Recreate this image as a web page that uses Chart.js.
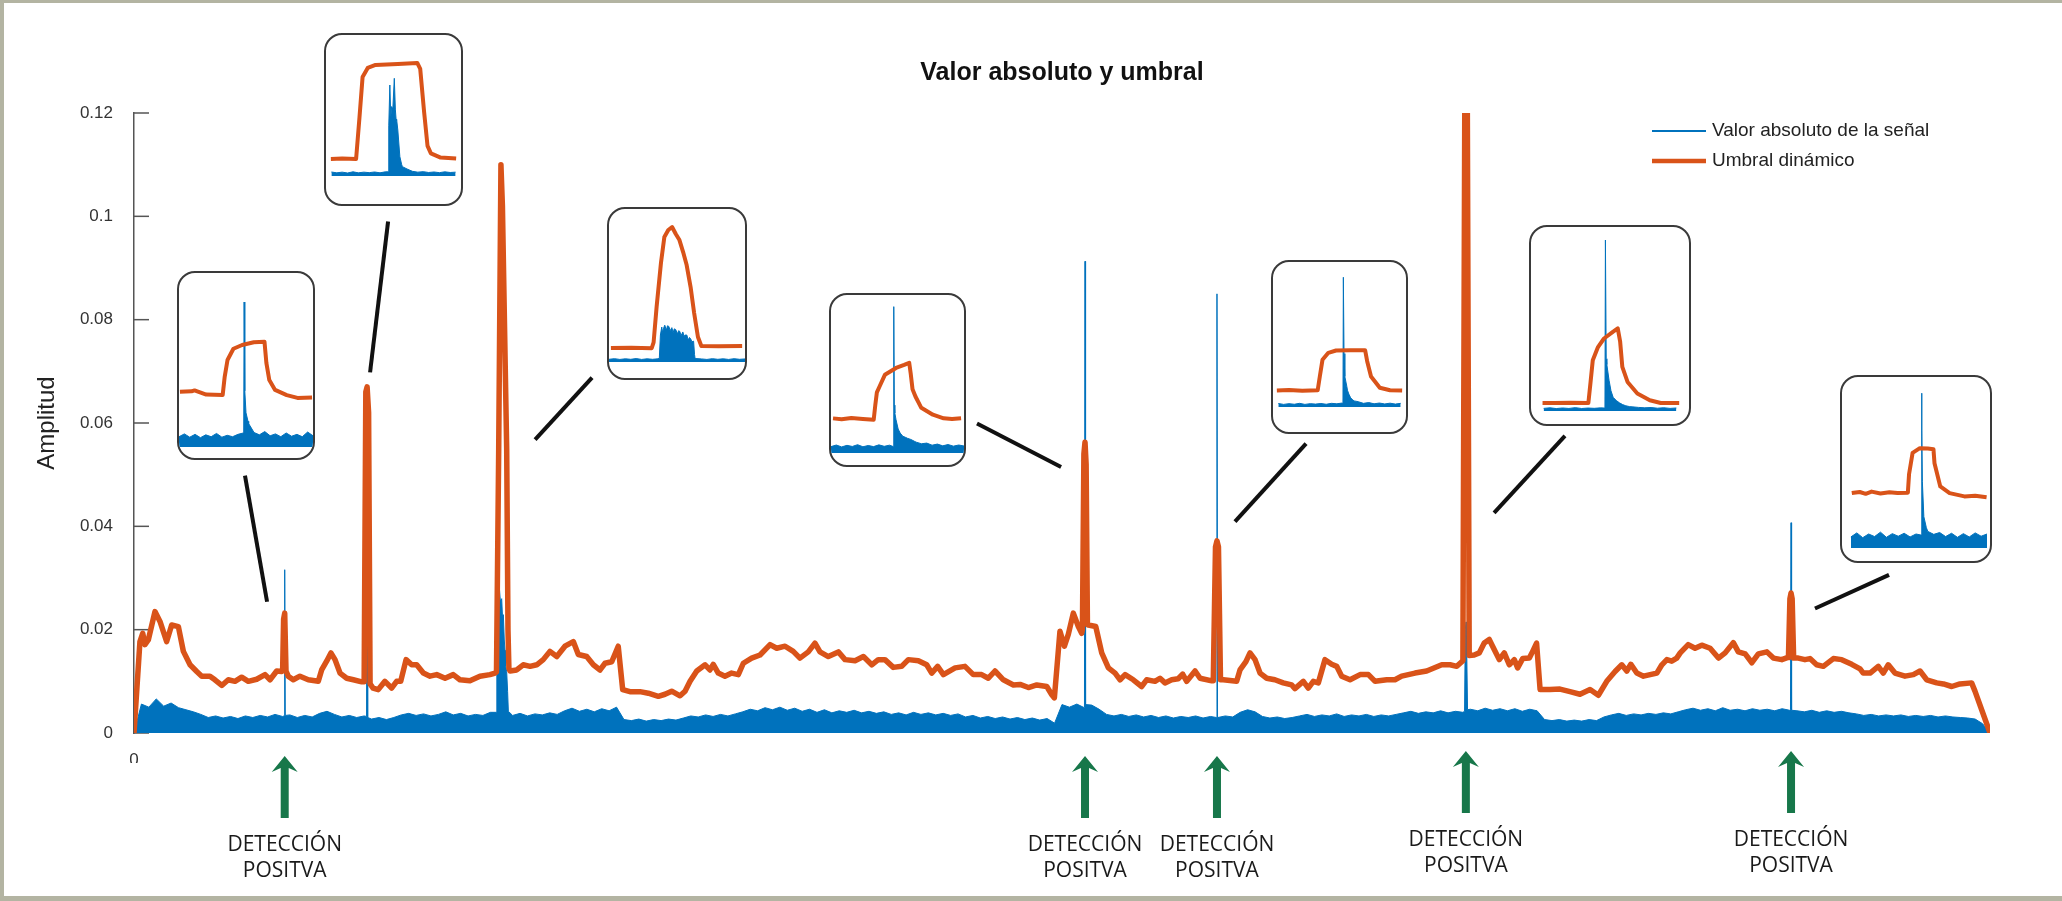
<!DOCTYPE html>
<html lang="es">
<head>
<meta charset="utf-8">
<title>Valor absoluto y umbral</title>
<script src="https://cdn.jsdelivr.net/npm/chart.js@4.4.0/dist/chart.umd.min.js"></script>
<style>
  html, body { margin: 0; padding: 0; }
  body { width: 2062px; height: 901px; background: #b3b4a2; position: relative; overflow: hidden; }
  #marco { position: absolute; left: 4px; top: 3px; width: 2070px; height: 893px; background: #fff; }
  #grafico { position: absolute; left: 0; top: 0; }
  .recuadro { position: absolute; box-sizing: border-box; border: 2px solid #3a3a3a; border-radius: 18px; background: #fff; overflow: hidden; }
  .recuadro canvas { display: block; }
</style>
</head>
<body>
<div id="marco"></div>
<canvas id="grafico" width="2062" height="901"></canvas>
<script>
const AZUL = '#0072BD';
const NARANJA = '#D95319';

// señal: valores cada 4 muestras (0..1000)
const senalBase = [
  0, 0.0056, 0.0050, 0.0066, 0.0052, 0.0058, 0.0049, 0.0045, 0.0041, 0.0036,
  0.0030, 0.0033, 0.0029, 0.0032, 0.0028, 0.0033, 0.0030, 0.0034, 0.0031, 0.0036,
  0.0032, 0.0035, 0.0030, 0.0034, 0.0031, 0.0038, 0.0042, 0.0036, 0.0031, 0.0034,
  0.0030, 0.0033, 0.0027, 0.0030, 0.0026, 0.0030, 0.0035, 0.0038, 0.0034, 0.0037,
  0.0033, 0.0036, 0.0041, 0.0035, 0.0038, 0.0033, 0.0036, 0.0034, 0.0040, 0.0240,
  0.0155, 0.0034, 0.0038, 0.0033, 0.0037, 0.0035, 0.0039, 0.0036, 0.0043, 0.0048,
  0.0042, 0.0046, 0.0041, 0.0047, 0.0043, 0.0050, 0.0026, 0.0024, 0.0027, 0.0023,
  0.0026, 0.0024, 0.0027, 0.0025, 0.0029, 0.0033, 0.0031, 0.0035, 0.0032, 0.0036,
  0.0033, 0.0037, 0.0041, 0.0046, 0.0043, 0.0049, 0.0045, 0.0050, 0.0044, 0.0048,
  0.0042, 0.0046, 0.0040, 0.0045, 0.0039, 0.0043, 0.0040, 0.0044, 0.0039, 0.0042,
  0.0038, 0.0041, 0.0036, 0.0039, 0.0035, 0.0040, 0.0036, 0.0039, 0.0035, 0.0038,
  0.0034, 0.0037, 0.0031, 0.0034, 0.0029, 0.0032, 0.0028, 0.0031, 0.0027, 0.0030,
  0.0026, 0.0029, 0.0025, 0.0028, 0.0019, 0.0055, 0.0050, 0.0056, 0.0049, 0.0054,
  0.0046, 0.0036, 0.0033, 0.0036, 0.0032, 0.0035, 0.0031, 0.0034, 0.0030, 0.0033,
  0.0029, 0.0032, 0.0030, 0.0033, 0.0029, 0.0032, 0.0030, 0.0033, 0.0031, 0.0040,
  0.0045, 0.0041, 0.0032, 0.0029, 0.0031, 0.0028, 0.0030, 0.0033, 0.0036, 0.0032,
  0.0035, 0.0033, 0.0037, 0.0032, 0.0035, 0.0033, 0.0036, 0.0032, 0.0035, 0.0033,
  0.0036, 0.0039, 0.0042, 0.0038, 0.0041, 0.0039, 0.0043, 0.0039, 0.0042, 0.0040,
  0.0046, 0.0043, 0.0048, 0.0044, 0.0047, 0.0043, 0.0047, 0.0042, 0.0046, 0.0043,
  0.0026, 0.0024, 0.0026, 0.0023, 0.0025, 0.0023, 0.0026, 0.0024, 0.0031, 0.0035,
  0.0038, 0.0034, 0.0037, 0.0035, 0.0038, 0.0036, 0.0039, 0.0037, 0.0041, 0.0045,
  0.0048, 0.0044, 0.0047, 0.0043, 0.0049, 0.0044, 0.0046, 0.0043, 0.0047, 0.0044,
  0.0046, 0.0043, 0.0047, 0.0044, 0.0043, 0.0041, 0.0044, 0.0040, 0.0043, 0.0040,
  0.0042, 0.0039, 0.0037, 0.0034, 0.0036, 0.0033, 0.0035, 0.0033, 0.0035, 0.0032,
  0.0034, 0.0032, 0.0034, 0.0031, 0.0033, 0.0031, 0.0030, 0.0029, 0.0027, 0.0018,
  0
];

// picos de la señal [muestra, amplitud]
const senalPicos = [
  [80.9, 0.0033], [81.2, 0.0316], [81.5, 0.0034],
  [125.3, 0.0032], [125.6, 0.0586], [125.9, 0.0030],
  [195.2, 0.004], [195.5, 0.0197], [196.2, 0.026], [196.8, 0.0284], [197.4, 0.0255], [198.1, 0.026],
  [198.6, 0.022], [199.0, 0.0229], [199.5, 0.018], [199.9, 0.016], [200.4, 0.013], [200.8, 0.0119],
  [201.3, 0.008], [201.7, 0.0042],
  [512.1, 0.005], [512.4, 0.0913], [512.7, 0.0055],
  [583.2, 0.0030], [583.5, 0.085], [583.8, 0.0031],
  [716.9, 0.0042], [717.3, 0.020], [717.7, 0.0215], [718.1, 0.015], [718.5, 0.0045],
  [892.5, 0.0045], [892.8, 0.0407], [893.1, 0.0044]
];

// umbral dinámico [muestra, amplitud]
const umbral = [
  [0, 0], [3.2, 0.0177], [4.7, 0.0193], [5.9, 0.0171], [7.7, 0.018], [11.3, 0.0235], [14.0, 0.0216],
  [17.6, 0.0177], [20.3, 0.0209], [23.9, 0.0206], [26.6, 0.0158], [30.2, 0.0132], [33.8, 0.0119],
  [36.5, 0.011], [40.9, 0.011], [43.6, 0.0103], [47.3, 0.0092], [50.8, 0.0103], [54.4, 0.01],
  [58.0, 0.0108], [61.6, 0.01], [66.1, 0.0104], [70.6, 0.0113], [73.3, 0.0103], [76.9, 0.012],
  [79.6, 0.0119], [80.1, 0.0125], [80.6, 0.022], [81.2, 0.0232], [81.9, 0.012],
  [83.1, 0.011], [85.8, 0.0103], [89.4, 0.011], [93.9, 0.0103], [99.3, 0.01], [101.1, 0.0122],
  [103.8, 0.0139], [106.1, 0.0155], [108.3, 0.0142], [111.0, 0.0116], [114.6, 0.0106],
  [118.2, 0.0103], [122.7, 0.0099],
  [124.0, 0.0099], [124.9, 0.066], [125.6, 0.067], [126.4, 0.062], [127.2, 0.0095],
  [128.8, 0.0087], [131.6, 0.0084], [135.2, 0.01], [138.8, 0.0087], [141.5, 0.01], [143.7, 0.01],
  [146.6, 0.0142], [149.6, 0.0132], [152.3, 0.0132], [155.9, 0.0116], [159.5, 0.011],
  [163.1, 0.0113], [167.6, 0.0106], [172.0, 0.0113], [175.6, 0.0103], [181.0, 0.0101],
  [186.4, 0.011], [191.8, 0.0113], [194.5, 0.0116],
  [195.3, 0.0118], [196.5, 0.055], [197.7, 0.110], [198.5, 0.102], [200.8, 0.055], [201.5, 0.02], [202.0, 0.0125],
  [202.6, 0.012], [206.2, 0.0122], [209.7, 0.0132], [213.4, 0.0129], [217.0, 0.0132], [220.5, 0.0142],
  [224.1, 0.0158], [227.8, 0.0148], [232.2, 0.0168], [236.7, 0.0177], [239.4, 0.0152], [243.9, 0.0148],
  [247.5, 0.0132], [251.1, 0.0122], [253.8, 0.0135], [257.4, 0.0138], [260.9, 0.0168], [263.3, 0.0084],
  [267.2, 0.008], [272.6, 0.008], [277.1, 0.0077], [282.5, 0.0071], [286.1, 0.0075], [289.7, 0.0081],
  [294.2, 0.0072], [296.9, 0.0081], [299.6, 0.01], [303.2, 0.012], [307.7, 0.0132], [310.3, 0.0122],
  [312.1, 0.0133], [314.8, 0.0116], [318.4, 0.011], [322.0, 0.0116], [325.6, 0.0113], [328.3, 0.0135],
  [332.8, 0.0145], [337.3, 0.0151], [342.7, 0.0171], [346.3, 0.0164], [350.8, 0.0168], [355.2, 0.0158],
  [358.8, 0.0145], [363.3, 0.0157], [366.9, 0.0174], [369.6, 0.0157], [374.1, 0.0148], [379.5, 0.0157],
  [383.1, 0.0142], [388.5, 0.014], [393.0, 0.0148], [397.5, 0.0132], [401.0, 0.0142], [404.6, 0.0142],
  [409.1, 0.0127], [413.6, 0.0129], [417.2, 0.0142], [422.6, 0.014], [427.1, 0.0132], [429.8, 0.0116],
  [433.0, 0.0129], [436.1, 0.0113], [442.4, 0.0126], [447.7, 0.0129], [452.2, 0.0113], [456.7, 0.0113],
  [460.3, 0.0106], [463.9, 0.012], [468.4, 0.0103], [473.8, 0.0093], [477.4, 0.0094], [481.9, 0.0088],
  [486.4, 0.0093], [491.8, 0.009], [494.5, 0.0074], [495.9, 0.0068], [498.9, 0.0197], [501.3, 0.0168],
  [503.4, 0.0191], [506.1, 0.0232], [508.8, 0.0206], [510.6, 0.0193],
  [511.0, 0.02], [511.8, 0.054], [512.4, 0.0563], [513.0, 0.052], [513.7, 0.021],
  [514.2, 0.0209], [518.2, 0.0206], [521.4, 0.0155], [525.0, 0.0126], [528.6, 0.0116], [531.3, 0.0103],
  [534.0, 0.0113], [538.4, 0.0103], [542.9, 0.009], [545.6, 0.0103], [550.1, 0.01], [552.8, 0.0106],
  [555.5, 0.0097], [559.1, 0.0103], [562.6, 0.0105], [565.0, 0.0114], [567.2, 0.01], [571.7, 0.012],
  [574.4, 0.0106], [580.7, 0.0101],
  [581.5, 0.0101], [582.7, 0.036], [583.5, 0.0372], [584.3, 0.036], [585.4, 0.0103],
  [586.9, 0.0103], [594.1, 0.01], [595.9, 0.0122], [599.1, 0.0138], [601.3, 0.0155], [604.0, 0.0142],
  [606.7, 0.0116], [610.3, 0.0106], [614.7, 0.0103], [619.2, 0.0097], [623.7, 0.0093], [625.5, 0.0086],
  [630.0, 0.01], [632.7, 0.0087], [635.4, 0.01], [638.1, 0.0097], [641.7, 0.0142], [645.3, 0.0133],
  [648.0, 0.0129], [650.7, 0.011], [655.2, 0.0103], [660.6, 0.0113], [665.1, 0.0113], [668.7, 0.01],
  [675.0, 0.0103], [679.4, 0.0103], [683.0, 0.011], [690.2, 0.0116], [696.5, 0.012], [704.6, 0.0132],
  [709.1, 0.0132], [712.7, 0.0129], [715.4, 0.0138],
  [716.0, 0.014], [717.1, 0.13], [718.3, 0.13], [719.4, 0.015],
  [722.1, 0.0151], [724.8, 0.0155], [727.5, 0.0174], [730.2, 0.0181], [732.0, 0.0168], [735.6, 0.0142],
  [738.3, 0.0155], [741.0, 0.0132], [743.7, 0.0142], [745.5, 0.0126], [748.2, 0.0144], [751.8, 0.0145],
  [753.6, 0.0158], [755.7, 0.0174], [757.6, 0.0084], [762.9, 0.0084], [768.3, 0.0085], [773.7, 0.008],
  [779.1, 0.0075], [784.5, 0.0084], [789.0, 0.0073], [793.5, 0.01], [798.0, 0.0119], [801.6, 0.0132],
  [804.3, 0.012], [806.5, 0.0133], [809.7, 0.0116], [813.3, 0.011], [816.9, 0.0113], [820.5, 0.0116],
  [823.2, 0.0132], [825.9, 0.0142], [828.5, 0.0139], [831.2, 0.0145], [833.1, 0.0155], [837.4, 0.0171],
  [841.1, 0.0164], [844.7, 0.017], [849.2, 0.0164], [853.7, 0.0145], [857.3, 0.0155], [861.7, 0.0175],
  [864.4, 0.0157], [868.1, 0.0153], [871.7, 0.0136], [875.2, 0.0153], [879.8, 0.0157], [883.3, 0.0145],
  [887.8, 0.0142], [890.8, 0.0146],
  [891.4, 0.0146], [892.2, 0.026], [892.8, 0.0271], [893.4, 0.026], [894.2, 0.0145],
  [896.7, 0.0145], [900.3, 0.0142], [903.0, 0.0144], [906.6, 0.0132], [910.2, 0.0129], [915.6, 0.0144],
  [920.1, 0.0142], [925.5, 0.0133], [930.0, 0.0124], [931.7, 0.0116], [935.4, 0.0116], [939.8, 0.0129],
  [942.5, 0.0116], [945.2, 0.0132], [948.8, 0.0116], [954.2, 0.011], [958.7, 0.0113], [962.3, 0.012],
  [965.9, 0.0103], [971.3, 0.0097], [974.9, 0.0095], [979.4, 0.009], [983.8, 0.0095], [990.1, 0.0097],
  [991.9, 0.0081], [1000, 0]
];

const detecciones = [81.2, 512.4, 583.5, 717.6, 892.8];

// recuadros de detalle: ventana 0..100
const rec1Umbral = [[0.7,0.0118],[9.4,0.0119],[11.6,0.0121],[20.3,0.0112],[32.6,0.0111],[34.1,0.0150],[36.2,0.0186],[40.6,0.0210],[47.1,0.0218],[55.8,0.0224],[63.8,0.0225],[65.2,0.018],[67.4,0.0143],[71.7,0.0122],[80.4,0.0111],[88.4,0.0105],[99.3,0.0106]];
const rec1Senal = [0.0022,0.0028,0.0021,0.0027,0.0020,0.0026,0.0022,0.0029,0.0021,0.0025,0.0022,0.0027,0.0030,0.0050,0.0031,0.0026,0.0033,0.0024,0.0028,0.0022,0.0030,0.0023,0.0027,0.0022,0.0032,0.0024];
const rec1Picos = [[48.3,0.0028],[48.6,0.031],[49.1,0.012],[50,0.0073],[51.5,0.0055]];

const rec2Umbral = [[3.6,0.0102],[12,0.0104],[22.3,0.0102],[24.8,0.035],[27.1,0.0592],[30.9,0.0646],[36.7,0.0664],[53.2,0.067],[67.6,0.0676],[69.8,0.064],[72.7,0.038],[75.2,0.018],[77.7,0.0135],[84.9,0.011],[96.4,0.0104]];
const rec2Senal = [0.0024,0.0019,0.0023,0.0018,0.0025,0.0019,0.0023,0.0020,0.0024,0.0019,0.0025,0.035,0.033,0.007,0.0042,0.0028,0.0023,0.0026,0.0021,0.0024,0.0020,0.0025,0.0021,0.0023];
const rec2Picos = [[46.0,0.0025],[46.5,0.03],[47.3,0.0544],[48.6,0.0415],[49.5,0.04],[50.6,0.0584],[51.4,0.0395],[52.3,0.034],[53.2,0.0275],[54.7,0.0116],[56.6,0.0056]];

const rec3Umbral = [[1.4,0.0114],[16.4,0.0117],[31.4,0.0113],[32.8,0.016],[35,0.0448],[38.2,0.0807],[40.7,0.1019],[43.6,0.1076],[46.4,0.110],[49.1,0.1043],[51.8,0.0994],[54.5,0.0896],[57.1,0.079],[60,0.0611],[62.6,0.0399],[65.4,0.0204],[67.9,0.013],[80.7,0.0128],[97.9,0.013]];
const rec3Senal = [0.0022,0.0027,0.0021,0.0026,0.0022,0.0028,0.0021,0.0026,0.0022,0.0026,0.027,0.029,0.027,0.025,0.022,0.019,0.0028,0.0025,0.0021,0.0027,0.0022,0.0026,0.0021,0.0027,0.0022,0.0025];
const rec3Picos = [[37,0.003],[37.8,0.022],[38.8,0.0285],[39.4,0.024],[41,0.030],[42.2,0.026],[43,0.0295],[45,0.0255],[46.2,0.028],[47.2,0.024],[49,0.0265],[50.4,0.023],[51.2,0.0255],[53,0.0215],[54.3,0.0245],[55.2,0.021],[57.2,0.022],[58.3,0.018],[59.2,0.020],[61,0.0165],[62.2,0.017],[62.9,0.006],[63.3,0.0028]];

const rec4Umbral = [[1.5,0.0217],[8,0.0212],[15.3,0.0219],[24,0.0213],[32.1,0.0208],[33.3,0.03],[34.5,0.038],[36.5,0.0417],[40.5,0.049],[48.9,0.0533],[55,0.0552],[58.8,0.0565],[59.9,0.05],[61.3,0.04],[63.5,0.0354],[67.9,0.0283],[76.6,0.024],[84.7,0.0217],[91,0.0213],[97.8,0.0218]];
const rec4Senal = [0.0040,0.0050,0.0038,0.0048,0.0041,0.0052,0.0039,0.0047,0.0040,0.0051,0.0042,0.0049,0.025,0.0125,0.0098,0.0085,0.0068,0.0058,0.0062,0.0049,0.0056,0.0045,0.0053,0.0043,0.0050,0.0044];
const rec4Picos = [[46.9,0.004],[47.2,0.0917],[47.6,0.03],[48.9,0.0208],[50.5,0.015],[54,0.0105],[57.5,0.0092],[62.8,0.0073]];

const rec5Umbral = [[2.9,0.0108],[12,0.0111],[22,0.0107],[33.6,0.011],[35.2,0.02],[37.2,0.0309],[41.6,0.0355],[47.4,0.037],[58,0.0372],[69.3,0.0371],[70.8,0.03],[73.7,0.02],[80.3,0.0126],[88,0.011],[97.1,0.0108]];
const rec5Senal = [0.0023,0.0017,0.0022,0.0018,0.0024,0.0017,0.0022,0.0019,0.0023,0.0018,0.0024,0.0021,0.0026,0.011,0.0046,0.0035,0.0024,0.0029,0.0021,0.0026,0.0020,0.0025,0.0019,0.0024];
const rec5Picos = [[52.6,0.0022],[52.9,0.085],[53.4,0.035],[54,0.02],[55.5,0.0135],[57,0.0085],[58.4,0.006],[61,0.004]];

const rec6Umbral = [[7.3,0.0138],[15,0.0136],[25,0.014],[36.3,0.0136],[37.7,0.05],[39.1,0.0874],[42.4,0.110],[46.2,0.1248],[51.8,0.1362],[54.9,0.1421],[56.4,0.12],[57.8,0.0759],[61.1,0.05],[67.3,0.03],[75.2,0.0184],[82.1,0.0138],[93.8,0.0136]];
const rec6Senal = [0.0045,0.0055,0.0042,0.0052,0.0044,0.0058,0.0043,0.0051,0.0046,0.0054,0.08,0.0235,0.014,0.009,0.0072,0.0062,0.0055,0.0060,0.0048,0.0056,0.0045,0.0052];
const rec6Picos = [[46.8,0.005],[47.1,0.2943],[47.6,0.09],[49.4,0.0529],[50.6,0.035],[54,0.018],[58,0.011],[62.5,0.0075]];

const rec7Umbral = [[6.6,0.0149],[12,0.0152],[16,0.0147],[20,0.0153],[26,0.0148],[32,0.0151],[37.5,0.0149],[44.5,0.015],[45.3,0.02],[47.7,0.0258],[52.6,0.0271],[58,0.027],[61.8,0.0268],[62.5,0.023],[66.4,0.0167],[72.7,0.0149],[82.7,0.014],[90,0.0142],[97.7,0.0138]];
const rec7Senal = [0.0030,0.0041,0.0028,0.0038,0.0031,0.0043,0.0029,0.0039,0.0032,0.0040,0.0030,0.0038,0.032,0.0045,0.0037,0.0042,0.0031,0.0040,0.0029,0.0039,0.0030,0.0041,0.0032,0.0038];
const rec7Picos = [[53.5,0.0035],[53.8,0.042],[54.3,0.018],[55.3,0.0085],[57,0.0055]];

const recInicio = [0, 4, 0, 0, 4, 8, 6];
const recYMax = [0.0372, 0.0843, 0.1247, 0.099, 0.095, 0.3167, 0.0464];

// colocación de los recuadros en la página
const recuadros = [
  {left: 177, top: 271, width: 138, height: 189, pad: 11},
  {left: 324, top: 33, width: 139, height: 173, pad: 28},
  {left: 607, top: 207, width: 140, height: 173, pad: 16},
  {left: 829, top: 293, width: 137, height: 174, pad: 12},
  {left: 1271, top: 260, width: 137, height: 174, pad: 25},
  {left: 1529, top: 225, width: 162, height: 201, pad: 13},
  {left: 1840, top: 375, width: 152, height: 188, pad: 13}
];

// líneas de unión recuadro -> pico [x1, y1, x2, y2] en unidades del gráfico
const conectores = [
  [59.8, 0.0498, 71.7, 0.0254],
  [136.9, 0.099, 127.2, 0.0698],
  [246.8, 0.0688, 216.1, 0.0568],
  [454.2, 0.0599, 499.5, 0.0515],
  [631.5, 0.056, 593.2, 0.0409],
  [771.0, 0.0575, 732.8, 0.0426],
  [945.6, 0.0306, 905.7, 0.0241]
];

function serie(inicio, paso, valores, picos) {
  const pts = valores.map((v, i) => ({x: inicio + i * paso, y: v}));
  picos.forEach(([x, y]) => pts.push({x, y}));
  return pts.sort((p, q) => p.x - q.x);
}

Chart.defaults.font.family = '"Liberation Sans", Arial, sans-serif';

const anotaciones = {
  id: 'anotaciones',
  beforeDatasetsDraw(chart) {
    const {ctx, chartArea: a, scales: {y}} = chart;
    ctx.save();
    ctx.strokeStyle = '#555';
    ctx.lineWidth = 1.5;
    y.ticks.forEach(t => {
      const py = y.getPixelForValue(t.value);
      ctx.beginPath();
      ctx.moveTo(a.left, py);
      ctx.lineTo(a.left + 15, py);
      ctx.stroke();
    });
    ctx.restore();
  },
  afterDraw(chart) {
    const {ctx, chartArea: a, scales: {x, y}} = chart;
    ctx.save();

    // leyenda
    ctx.font = '19px "Liberation Sans", Arial, sans-serif';
    ctx.textBaseline = 'middle';
    ctx.textAlign = 'left';
    chart.data.datasets.forEach((ds, i) => {
      const yy = a.top + 18 + i * 30;
      ctx.strokeStyle = ds.borderColor;
      ctx.lineWidth = i ? 4.5 : 2;
      ctx.beginPath();
      ctx.moveTo(a.right - 338, yy);
      ctx.lineTo(a.right - 284, yy);
      ctx.stroke();
      ctx.fillStyle = '#222';
      ctx.fillText(ds.label, a.right - 278, yy);
    });

    // uniones
    ctx.strokeStyle = '#111';
    ctx.lineWidth = 4;
    conectores.forEach(([x1, y1, x2, y2]) => {
      ctx.beginPath();
      ctx.moveTo(x.getPixelForValue(x1), y.getPixelForValue(y1));
      ctx.lineTo(x.getPixelForValue(x2), y.getPixelForValue(y2));
      ctx.stroke();
    });

    // flechas y rótulos
    detecciones.forEach((d, i) => {
      const cx = x.getPixelForValue(d);
      const off = i > 2 ? -5 : 0;
      const tip = a.bottom + 23 + off;
      ctx.fillStyle = '#17774a';
      ctx.beginPath();
      ctx.moveTo(cx, tip);
      ctx.lineTo(cx + 13, tip + 16);
      ctx.lineTo(cx + 4, tip + 12);
      ctx.lineTo(cx + 4, tip + 62);
      ctx.lineTo(cx - 4, tip + 62);
      ctx.lineTo(cx - 4, tip + 12);
      ctx.lineTo(cx - 13, tip + 16);
      ctx.closePath();
      ctx.fill();

      ctx.fillStyle = '#1a1a1a';
      ctx.font = '21px "Open Sans", sans-serif';
      ctx.textAlign = 'center';
      ctx.fillText('DETECCIÓN', cx, a.bottom + 112 + off);
      ctx.fillText('POSITVA', cx, a.bottom + 138 + off);
    });
    ctx.restore();
  }
};

new Chart(document.getElementById('grafico'), {
  type: 'line',
  data: {
    datasets: [{
      label: 'Valor absoluto de la señal',
      data: serie(0, 4, senalBase, senalPicos),
      borderColor: AZUL,
      backgroundColor: AZUL,
      borderWidth: 1,
      fill: 'origin',
      pointRadius: 0,
      order: 1
    }, {
      label: 'Umbral dinámico',
      data: umbral.map(([x, y]) => ({x, y})),
      borderColor: NARANJA,
      borderWidth: 5.5,
      borderJoinStyle: 'round',
      borderCapStyle: 'round',
      fill: false,
      pointRadius: 0,
      order: 0
    }]
  },
  options: {
    responsive: false,
    animation: false,
    events: [],
    parsing: false,
    layout: {padding: {left: 0, right: 72, top: 0, bottom: 138}},
    plugins: {
      legend: {display: false},
      tooltip: {enabled: false},
      title: {
        display: true,
        text: 'Valor absoluto y umbral',
        fullSize: false,
        color: '#111',
        font: {size: 25, weight: 'bold'},
        padding: {top: 58, bottom: 25}
      }
    },
    scales: {
      x: {
        type: 'linear',
        min: 0,
        max: 1000,
        grid: {display: false},
        border: {display: false},
        ticks: {padding: 9, color: '#333', font: {size: 17}, maxRotation: 0},
        afterBuildTicks: s => { s.ticks = [{value: 0}]; },
        afterFit: s => { s.height = 30; }
      },
      y: {
        min: 0,
        max: 0.12,
        ticks: {stepSize: 0.02, padding: 21, color: '#333', font: {size: 17}, callback: v => String(+v.toFixed(2))},
        grid: {display: true, drawOnChartArea: false, drawTicks: false},
        border: {display: true, color: '#555', width: 1.5},
        title: {display: true, text: 'Amplitud', color: '#222', font: {size: 24}, padding: {top: 33, bottom: 0}},
        afterFit: s => { s.width = 134; }
      }
    }
  },
  plugins: [anotaciones]
});

const recUmbral = [rec1Umbral, rec2Umbral, rec3Umbral, rec4Umbral, rec5Umbral, rec6Umbral, rec7Umbral];
const recSenal = [rec1Senal, rec2Senal, rec3Senal, rec4Senal, rec5Senal, rec6Senal, rec7Senal];
const recPicos = [rec1Picos, rec2Picos, rec3Picos, rec4Picos, rec5Picos, rec6Picos, rec7Picos];

recuadros.forEach((r, i) => {
  const div = document.createElement('div');
  div.className = 'recuadro';
  div.style.left = r.left + 'px';
  div.style.top = r.top + 'px';
  div.style.width = r.width + 'px';
  div.style.height = r.height + 'px';
  const c = document.createElement('canvas');
  c.width = r.width - 4;
  c.height = r.height - 4;
  div.appendChild(c);
  document.body.appendChild(div);

  new Chart(c, {
    type: 'line',
    data: {
      datasets: [{
        data: serie(recInicio[i], 4, recSenal[i], recPicos[i]),
        borderColor: AZUL,
        backgroundColor: AZUL,
        borderWidth: 1,
        fill: 'origin',
        pointRadius: 0,
        order: 1
      }, {
        data: recUmbral[i].map(([x, y]) => ({x, y})),
        borderColor: NARANJA,
        borderWidth: 4,
        borderJoinStyle: 'round',
        fill: false,
        pointRadius: 0,
        order: 0
      }]
    },
    options: {
      responsive: false,
      animation: false,
      events: [],
      parsing: false,
      layout: {padding: {left: 0, right: 0, top: 0, bottom: r.pad}},
      plugins: {legend: {display: false}, tooltip: {enabled: false}, title: {display: false}},
      scales: {
        x: {type: 'linear', display: false, min: 0, max: 100},
        y: {display: false, min: 0, max: recYMax[i]}
      }
    }
  });
});
</script>
</body>
</html>
